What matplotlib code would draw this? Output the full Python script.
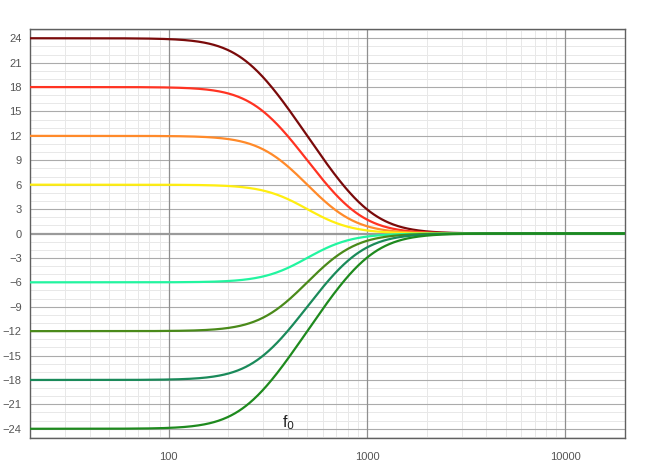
import numpy as np
import matplotlib
matplotlib.use("Agg")
import matplotlib.pyplot as plt
from matplotlib.ticker import FixedLocator, NullFormatter, LogLocator

# ---- data ----
gains_db = [24, 18, 12, 6, -6, -12, -18, -24]
colors = ["#7a0a0a", "#ff3322", "#ff8a2a", "#ffee10",
          "#22f5a0", "#4a8a1a", "#1a8a5a", "#1e8a1e"]
f0_hz = 500.0          # shelf corner frequency
q_shelf = 0.7071       # shelf Q (S = 1)
y_ticks = list(range(-24, 25, 3))
x_ticks = [100, 1000, 10000]
x_tick_labels = ["100", "1000", "10000"]
label_f0 = "f$_0$"

plt.rcParams["font.family"] = ["Liberation Sans", "DejaVu Sans"]

fig = plt.figure(figsize=(6.55, 4.68), dpi=100)
ax = fig.add_axes([0.0458, 0.0647, 0.9084, 0.8727])

freqs = np.logspace(np.log10(20), np.log10(20000), 800)


def low_shelf_db(f, gain_db):
    A = 10 ** (gain_db / 40.0)
    s = 1j * f / f0_hz
    num = s ** 2 + (np.sqrt(A) / q_shelf) * s + A
    den = A * s ** 2 + (np.sqrt(A) / q_shelf) * s + 1
    return 20 * np.log10(np.abs(A * num / den))


ax.set_xscale("log")
ax.set_xlim(20, 20000)
ax.set_ylim(-25.1, 25.1)

ax.xaxis.set_major_locator(FixedLocator(x_ticks))
ax.set_xticklabels(x_tick_labels)
ax.xaxis.set_minor_locator(LogLocator(base=10, subs=np.arange(2, 10)))
ax.xaxis.set_minor_formatter(NullFormatter())
ax.set_yticks(y_ticks)
ax.yaxis.set_minor_locator(FixedLocator([v for v in range(-25, 26) if v % 3 != 0]))

# minor grid below, major grid lines on top of it
ax.grid(True, which="minor", color="#e8e8e8", lw=0.7)
ax.grid(False, which="major")
ax.set_axisbelow(True)
for yv in y_ticks:
    if yv != 0:
        ax.axhline(yv, color="#ababab", lw=0.8, zorder=0.8)
for xv in x_ticks:
    ax.axvline(xv, color="#8f8f8f", lw=0.9, zorder=0.9)
ax.axhline(0, color="#9a9a9a", lw=1.6, zorder=1)

for g, c in zip(gains_db, colors):
    ax.plot(freqs, low_shelf_db(freqs, g), color=c, lw=1.6, zorder=3,
            solid_capstyle="round")

ax.tick_params(which="both", length=0, labelsize=8, colors="#555555", pad=6)
ax.tick_params(axis="x", pad=10)
for sp in ax.spines.values():
    sp.set_color("#606060")
    sp.set_linewidth(1.0)

ax.text(400, -23.3, label_f0, fontsize=11.5, color="#222222",
        ha="center", va="center", zorder=4)

fig.savefig("out.png", dpi=100, facecolor="white")
